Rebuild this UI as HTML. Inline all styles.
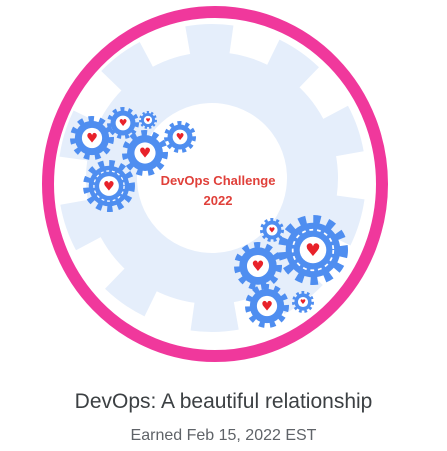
<!DOCTYPE html>
<html><head><meta charset="utf-8"><style>
html,body{margin:0;padding:0;background:#fff;width:447px;height:451px;overflow:hidden}
.t1{position:absolute;left:0;width:447px;text-align:center;top:390px;font:21px "Liberation Sans",sans-serif;color:#3c4043}
.t2{position:absolute;left:0;width:447px;text-align:center;top:427px;font:16px "Liberation Sans",sans-serif;color:#5f6368}
</style></head><body>
<svg width="447" height="451" style="position:absolute;left:0;top:0">
<defs>
<g id="g">
 <circle r="0.78" fill="#4f8ef0"/>
 <circle r="0.86" fill="none" stroke="#4f8ef0" stroke-width="0.28" pathLength="20" stroke-dasharray="1 1"/>
 <circle r="0.46" fill="#fff"/>
 <text y="0.2" text-anchor="middle" font-size="0.6" fill="#e8222a" font-family="DejaVu Sans">♥</text>
</g>
<g id="gd">
 <circle r="0.78" fill="#4f8ef0"/>
 <circle r="0.86" fill="none" stroke="#4f8ef0" stroke-width="0.28" pathLength="24" stroke-dasharray="1 1"/>
 <circle r="0.58" fill="none" stroke="#fff" stroke-width="0.05" pathLength="30" stroke-dasharray="1 1"/>
 <circle r="0.38" fill="#fff"/>
 <text y="0.17" text-anchor="middle" font-size="0.5" fill="#e8222a" font-family="DejaVu Sans">♥</text>
</g>
</defs>
<g transform="translate(212,178) rotate(8)">
 <circle r="126" fill="#e5eefb"/>
 <circle r="138" fill="none" stroke="#e5eefb" stroke-width="32" pathLength="20" stroke-dasharray="1 1"/>
 <circle r="75" fill="#fff"/>
</g>
<ellipse cx="215" cy="184" rx="167" ry="172" fill="none" stroke="#f0389c" stroke-width="12"/>
<use href="#g" transform="translate(92,138) scale(22)"/>
<use href="#g" transform="translate(123,123) scale(16)"/>
<use href="#g" transform="translate(148,120) scale(9)"/>
<use href="#g" transform="translate(180,137) scale(16)"/>
<use href="#g" transform="translate(145,153) scale(23)"/>
<use href="#gd" transform="translate(109,186) scale(26)"/>
<use href="#g" transform="translate(272,230) scale(12)"/>
<use href="#gd" transform="translate(313,250) scale(35)"/>
<use href="#g" transform="translate(258,266) scale(24)"/>
<use href="#g" transform="translate(267,306) scale(22)"/>
<use href="#g" transform="translate(303,302) scale(11)"/>
<text x="218" y="185" text-anchor="middle" font-family="Liberation Sans,sans-serif" font-size="13" font-weight="bold" fill="#e0403a">DevOps Challenge</text>
<text x="218" y="205" text-anchor="middle" font-family="Liberation Sans,sans-serif" font-size="13" font-weight="bold" fill="#e0403a">2022</text>
</svg>
<div class="t1">DevOps: A beautiful relationship</div>
<div class="t2">Earned Feb 15, 2022 EST</div>
</body></html>
